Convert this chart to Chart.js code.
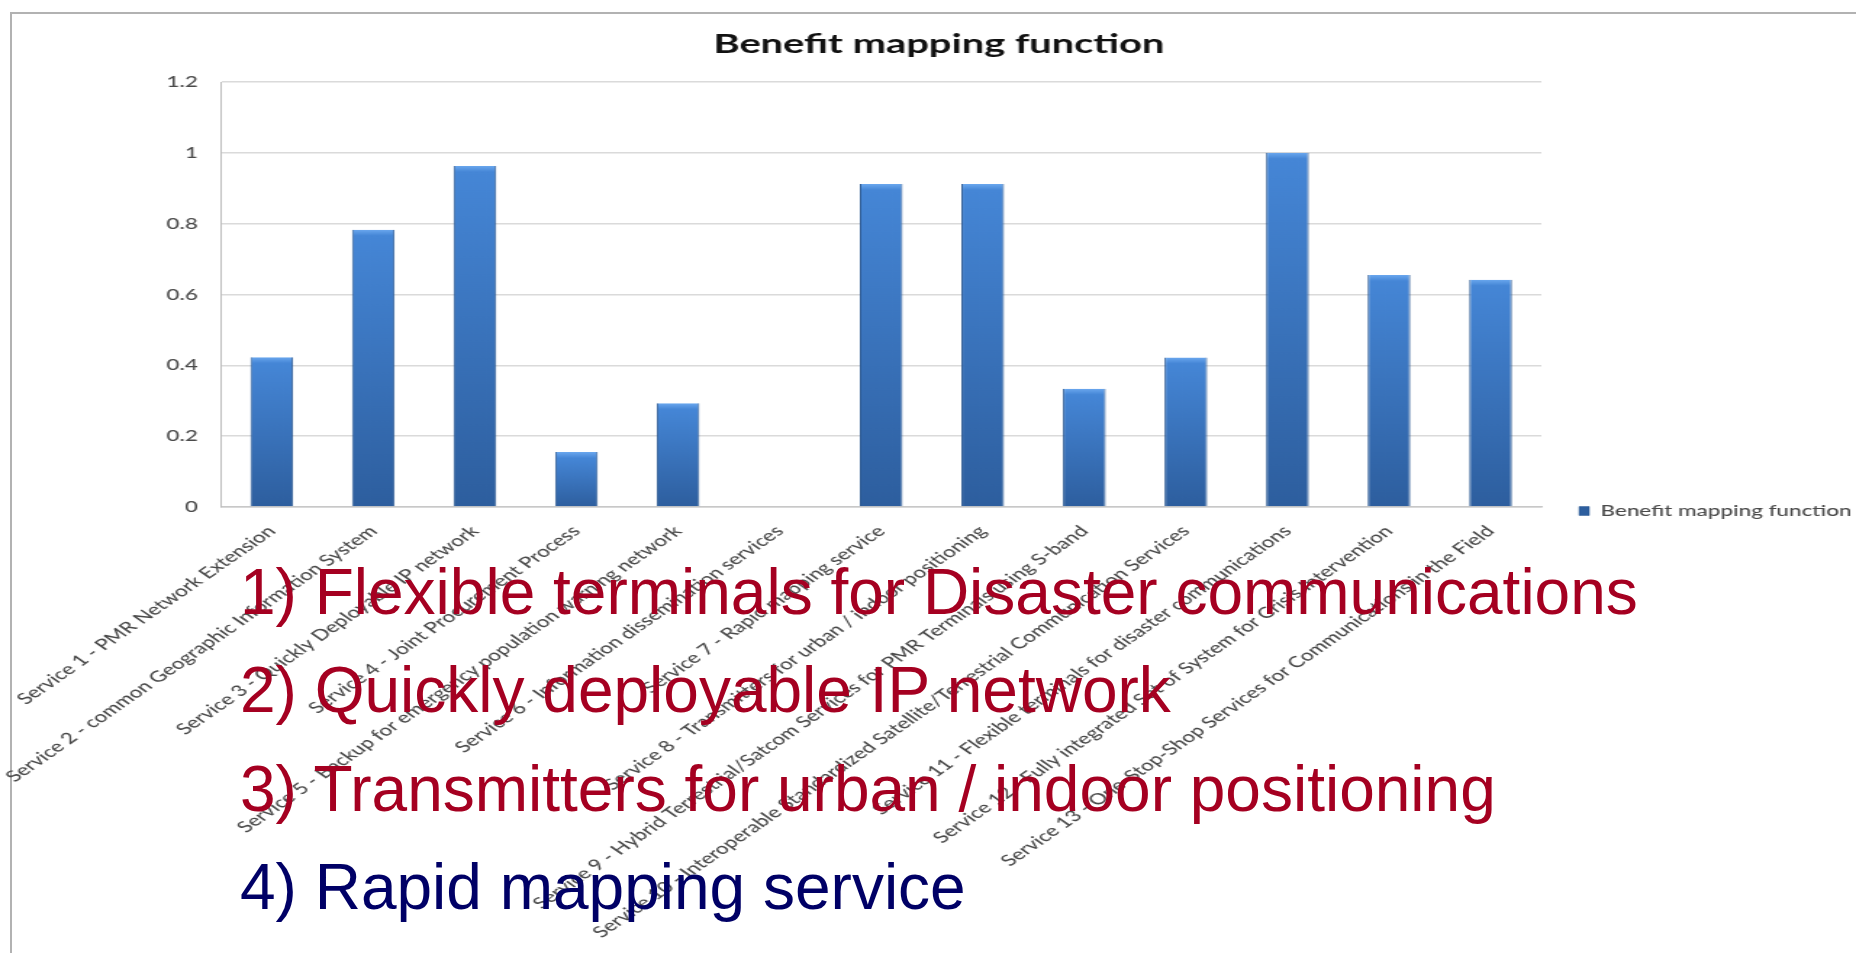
<!DOCTYPE html>
<html>
<head>
<meta charset="utf-8">
<script src="https://cdn.jsdelivr.net/npm/chart.js@4"></script>
<style>
html, body { margin:0; padding:0; background:#fff; overflow:hidden; width:1856px; height:953px; }
#frame { position:absolute; left:10px; top:12px; width:1900px; height:1000px; border-left:2px solid #b2b2b2; border-top:2px solid #b2b2b2; }
#wrap { position:absolute; left:0; top:0; width:1280px; height:1022px; transform:scaleX(1.45); transform-origin:0 0; }
#notes { position:absolute; left:240px; top:543px; font-family:"Liberation Sans", Arial, sans-serif; font-size:64px; line-height:98.3px; white-space:nowrap; }
</style>
</head>
<body>
<div id="frame"></div>
<div id="wrap"><canvas id="c" width="1280" height="1022"></canvas></div>
<div id="notes"></div>
<script>
// ---- data ----
const categories = [
  'Service 1 - PMR Network Extension',
  'Service 2 - common Geographic Information System',
  'Service 3 - Quickly Deployable IP network',
  'Service 4 - Joint Procurement Process',
  'Service 5 - Backup for emergency population warning network',
  'Service 6 - Information dissemination services',
  'Service 7 - Rapid mapping service',
  'Service 8 - Transmitters for urban / indoor positioning',
  'Service 9 - Hybrid Terrestrial/Satcom Services for PMR Terminals using S-band',
  'Service 10 - Interoperable Standardized Satellite/Terrestrial Communication Services',
  'Service 11 - Flexible terminals for disaster communications',
  'Service 12 - Fully integrated Set of System for Crisis Intervention',
  'Service 13 - One-Stop-Shop Services for Communications in the Field'
];
const benefitValues = [0.423, 0.783, 0.963, 0.155, 0.293, 0, 0.912, 0.912, 0.334, 0.422, 1.0, 0.655, 0.642];
const yTickValues = [0, 0.2, 0.4, 0.6, 0.8, 1, 1.2];
const yTickLabels = ['0', '0.2', '0.4', '0.6', '0.8', '1', '1.2'];
const seriesName = 'Benefit mapping function';
const chartTitle = 'Benefit mapping function';
const noteLines = [
  '1) Flexible terminals for Disaster communications',
  '2) Quickly deployable IP network',
  '3) Transmitters for urban / indoor positioning',
  '4) Rapid mapping service'
];
const noteColors = ['#A50021', '#A50021', '#A50021', '#000066'];

// ---- notes overlay ----
const notesEl = document.getElementById('notes');
noteLines.forEach((t, i) => {
  const d = document.createElement('div');
  d.textContent = t;
  d.style.color = noteColors[i];
  notesEl.appendChild(d);
});

// ---- bar fill ----
function barFill(ctx) {
  const chart = ctx.chart;
  if (ctx.type !== 'data' || !chart.chartArea || !chart.scales.y) return '#3b78c4';
  const ys = chart.scales.y;
  const top = ys.getPixelForValue(ctx.raw);
  const bottom = ys.getPixelForValue(0);
  if (!(bottom - top > 1)) return '#3b78c4';
  const g = chart.ctx.createLinearGradient(0, top, 0, bottom);
  const f = Math.min(6 / (bottom - top), 0.3);
  g.addColorStop(0, '#6aa7ee');
  g.addColorStop(f, '#4586d6');
  g.addColorStop(1, '#2d5e9e');
  return g;
}

const FONT = 'Lato, "Open Sans", sans-serif';
const TEXT = '#4a4a4a';

new Chart(document.getElementById('c'), {
  type: 'bar',
  data: {
    labels: categories,
    datasets: [{
      label: seriesName,
      data: benefitValues,
      backgroundColor: barFill,
      borderColor: '#2a5892',
      borderWidth: { left: 1, right: 1, top: 0, bottom: 0 },
      barPercentage: 0.42,
      categoryPercentage: 1
    }]
  },
  options: {
    responsive: false,
    animation: false,
    devicePixelRatio: 1,
    layout: { padding: { left: 15, top: 0, right: 0, bottom: 0 } },
    plugins: {
      title: {
        display: true, text: chartTitle, color: '#111',
        font: { family: FONT, size: 27.5, weight: 'bold' },
        padding: { top: 27.5, bottom: 21.5 }
      },
      legend: {
        position: 'right', align: 'center', maxWidth: 217,
        labels: { boxWidth: 7, boxHeight: 9, padding: 26, color: TEXT, font: { family: FONT, size: 15.5, weight: 500 } }
      },
      tooltip: { enabled: false }
    },
    scales: {
      x: {
        grid: { display: false, drawTicks: false },
        border: { display: true, color: '#c8c8c8', width: 1.5 },
        ticks: { autoSkip: false, minRotation: 45, maxRotation: 45, padding: 15, color: TEXT, font: { family: FONT, size: 15.5, weight: 500 } },
        afterFit: s => { s.height = 1022 - 507; s.paddingLeft = 0; s.paddingRight = 0; }
      },
      y: {
        min: 0, max: 1.2,
        afterBuildTicks: s => { s.ticks = yTickValues.map(v => ({ value: v })); },
        ticks: { padding: 16, color: TEXT, font: { family: FONT, size: 15.5, weight: 500 }, callback: (v, i) => yTickLabels[i] },
        grid: { color: '#dadada', lineWidth: 1.5, drawTicks: false },
        border: { display: true, color: '#bdbdbd', width: 1 },
        afterFit: s => { s.width = 137.4; }
      }
    }
  }
});
</script>
</body>
</html>
